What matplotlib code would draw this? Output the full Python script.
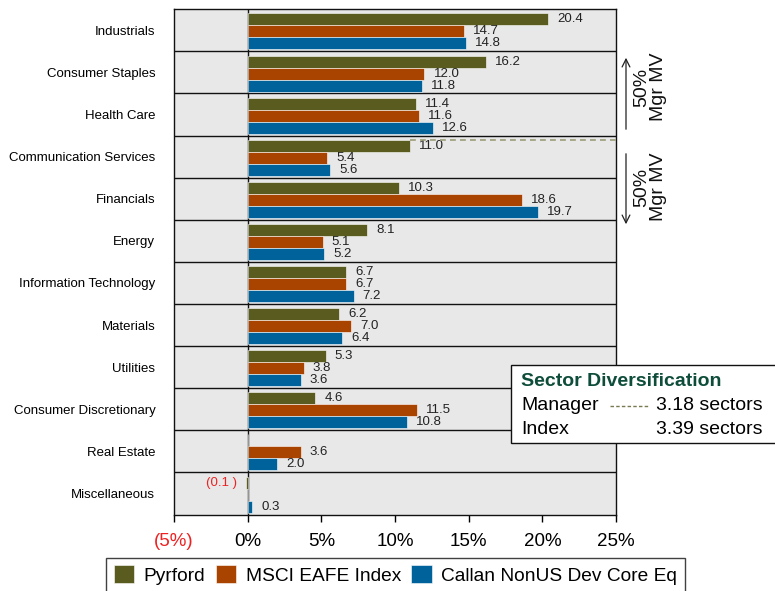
import matplotlib
matplotlib.use("Agg")
import matplotlib.pyplot as plt
from matplotlib.patches import Patch, Rectangle
import numpy as np

plt.rcParams['font.family'] = ['Liberation Sans', 'DejaVu Sans']

categories = ["Industrials", "Consumer Staples", "Health Care", "Communication Services",
              "Financials", "Energy", "Information Technology", "Materials", "Utilities",
              "Consumer Discretionary", "Real Estate", "Miscellaneous"]
pyrford = [20.4, 16.2, 11.4, 11.0, 10.3, 8.1, 6.7, 6.2, 5.3, 4.6, 0.0, -0.1]
msci = [14.7, 12.0, 11.6, 5.4, 18.6, 5.1, 6.7, 7.0, 3.8, 11.5, 3.6, 0.0]
callan = [14.8, 11.8, 12.6, 5.6, 19.7, 5.2, 7.2, 6.4, 3.6, 10.8, 2.0, 0.3]
series_names = ["Pyrford", "MSCI EAFE Index", "Callan NonUS Dev Core Eq"]
colors = ["#5a5b1f", "#a84400", "#00629a"]
xticks = [-5, 0, 5, 10, 15, 20, 25]
xticklabels = ["(5%)", "0%", "5%", "10%", "15%", "20%", "25%"]
manager_sectors = 3.18
index_sectors = 3.39

W, H = 775, 591
fig = plt.figure(figsize=(W / 100, H / 100), dpi=100)

def fx(px):
    return px / W

def fy(py):
    return 1 - py / H

ax = fig.add_axes([fx(174), fy(514.5), fx(616) - fx(174), fy(9.3) - fy(514.5)])
ax.set_facecolor("#e8e8e8")

y = np.arange(len(categories))
h = 0.285
shift = 0.025
offsets = [-h, 0, h]
for vals, off, col in zip([pyrford, msci, callan], offsets, colors):
    ax.barh(y + off + shift, vals, height=h, color=col, edgecolor="white", linewidth=0.4, zorder=3)
    for yi, v in zip(y, vals):
        if v > 0:
            ax.annotate(f"{v:.1f}", (v, yi + off + shift), xytext=(6.5, 0), textcoords="offset points",
                        va="center", ha="left", fontsize=9.5, color="#222222", zorder=4)
        elif v < 0:
            ax.annotate(f"({abs(v):.1f} )", (v, yi + off + shift), xytext=(-6.5, 0), textcoords="offset points",
                        va="center", ha="right", fontsize=9.5, color="#ee2222", zorder=4)

for b in np.arange(len(categories) - 1) + 0.5:
    ax.axhline(b, color="#111111", lw=1.0, zorder=2)
ax.axvline(0, color="#111111", lw=1.0, zorder=2)

ax.set_xlim(-5, 25)
ax.set_ylim(len(categories) - 0.5, -0.5)
ax.set_yticks(y)
ax.set_yticklabels(categories, fontsize=9.5)
ax.tick_params(axis="y", length=0, pad=13.5)
ax.set_xticks(xticks)
ax.set_xticklabels(xticklabels, fontsize=13.5)
ax.tick_params(axis="x", length=5, width=1, pad=8)
ax.get_xticklabels()[0].set_color("#ee2222")
for s in ax.spines.values():
    s.set_color("#111111")
    s.set_linewidth(1.0)

# dashed manager line
yd = 3 - h - 0.1
ax.plot([pyrford[3], 25], [yd, yd], ls=(0, (3.5, 2.5)), color="#9c9c78",
        lw=1.2, clip_on=False, zorder=5)

# overlay for annotations in pixel coordinates
ax_overlay = fig.add_axes([0, 0, 1, 1], facecolor="none")
ax_overlay.set_xlim(0, W)
ax_overlay.set_ylim(H, 0)
ax_overlay.axis("off")
ax_overlay.annotate("", xy=(626, 55), xytext=(626, 132),
                    arrowprops=dict(arrowstyle="->", lw=0.9, color="#222222", mutation_scale=14))
ax_overlay.annotate("", xy=(626, 227), xytext=(626, 151),
                    arrowprops=dict(arrowstyle="->", lw=0.9, color="#222222", mutation_scale=14))
ax_overlay.text(650, 87, "50%\nMgr MV", rotation=90, ha="center", va="center", fontsize=14,
                linespacing=0.95, color="#111111")
ax_overlay.text(650, 187, "50%\nMgr MV", rotation=90, ha="center", va="center", fontsize=14,
                linespacing=0.95, color="#111111")

# sector diversification box
ax_overlay.add_patch(Rectangle((511, 365), 280, 78, facecolor="white", edgecolor="#111111",
                               lw=1.0, clip_on=False, zorder=6))
ax_overlay.text(521, 382, "Sector Diversification", fontsize=14, fontweight="bold",
                color="#0e4d3a", va="center", ha="left", zorder=7)
ax_overlay.text(521, 406, "Manager", fontsize=14, va="center", ha="left", zorder=7)
ax_overlay.plot([610, 648], [405.5, 405.5], ls=(0, (2.5, 1.6)), color="#7a7a50", lw=1.0, zorder=7)
ax_overlay.text(763, 406, f"{manager_sectors:.2f} sectors", fontsize=14, va="center", ha="right", zorder=7)
ax_overlay.text(521, 429, "Index", fontsize=14, va="center", ha="left", zorder=7)
ax_overlay.text(763, 429, f"{index_sectors:.2f} sectors", fontsize=14, va="center", ha="right", zorder=7)

# legend
handles = [Patch(facecolor=c, edgecolor="white", linewidth=0.4) for c in colors]
leg = fig.legend(handles, series_names, loc="upper center", ncol=3,
                 bbox_to_anchor=(fx(395.5), fy(557.7)), fontsize=13.8, frameon=True,
                 fancybox=False, edgecolor="#111111", handlelength=1.05, handleheight=1.05,
                 handletextpad=0.5, columnspacing=0.55, borderpad=0.4, borderaxespad=0)
leg.get_frame().set_linewidth(1.0)

fig.savefig("out.png", dpi=100)
